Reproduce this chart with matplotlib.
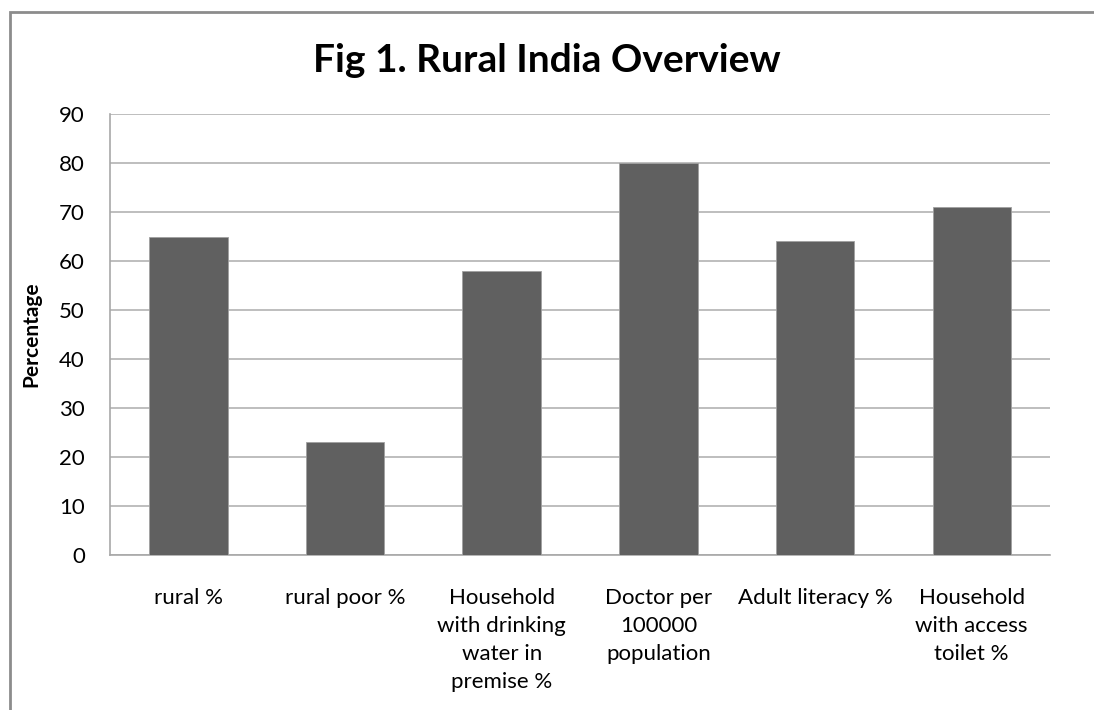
import matplotlib
matplotlib.use("Agg")
import matplotlib.pyplot as plt
from matplotlib.patches import Rectangle

categories = ["rural %", "rural poor %", "Household\nwith drinking\nwater in\npremise %",
              "Doctor per\n100000\npopulation", "Adult literacy %", "Household\nwith access\ntoilet %"]
values = [65, 23, 58, 80, 64, 71]
yticks = [0, 10, 20, 30, 40, 50, 60, 70, 80, 90]

W, H = 1094, 710
plt.rcParams['font.family'] = ['Lato', 'DejaVu Sans']
fig = plt.figure(figsize=(W / 100, H / 100), dpi=100)

left, right, top, bottom = 110, 1050, 114, 555
ax = fig.add_axes([left / W, 1 - bottom / H, (right - left) / W, (bottom - top) / H])

x = list(range(len(categories)))
ax.bar(x, values, width=0.5, color='#606060', edgecolor='#a0a0a0', linewidth=0.6, zorder=3)
ax.set_xlim(-0.5, len(categories) - 0.5)
ax.set_ylim(0, 90)
ax.set_yticks(yticks)
ax.set_xticks(x)
ax.set_xticklabels(categories, linespacing=1.5)
ax.grid(axis='y', color='#b3b3b3', linewidth=1.2, zorder=0)
ax.tick_params(axis='both', length=0, labelsize=16, colors='black')
ax.tick_params(axis='y', pad=18)
ax.tick_params(axis='x', pad=24)
for s in ['top', 'right']:
    ax.spines[s].set_visible(False)
for s in ['left', 'bottom']:
    ax.spines[s].set_color('#a8a8a8')
    ax.spines[s].set_linewidth(1.2)
ax.set_ylabel('Percentage', fontsize=15, fontweight='bold', labelpad=13)

fig.text(0.5, 1 - 61 / H, 'Fig 1. Rural India Overview', ha='center', va='center',
         fontsize=28, fontweight='bold')

# outer chart border (cropped at right and bottom)
fig.add_artist(Rectangle((9.5 / W, -0.05), 1.2, 1 - 11.5 / H + 0.05, transform=fig.transFigure,
                         fill=False, edgecolor='#8c8c8c', linewidth=2.0))

fig.savefig('out.png', dpi=100)
